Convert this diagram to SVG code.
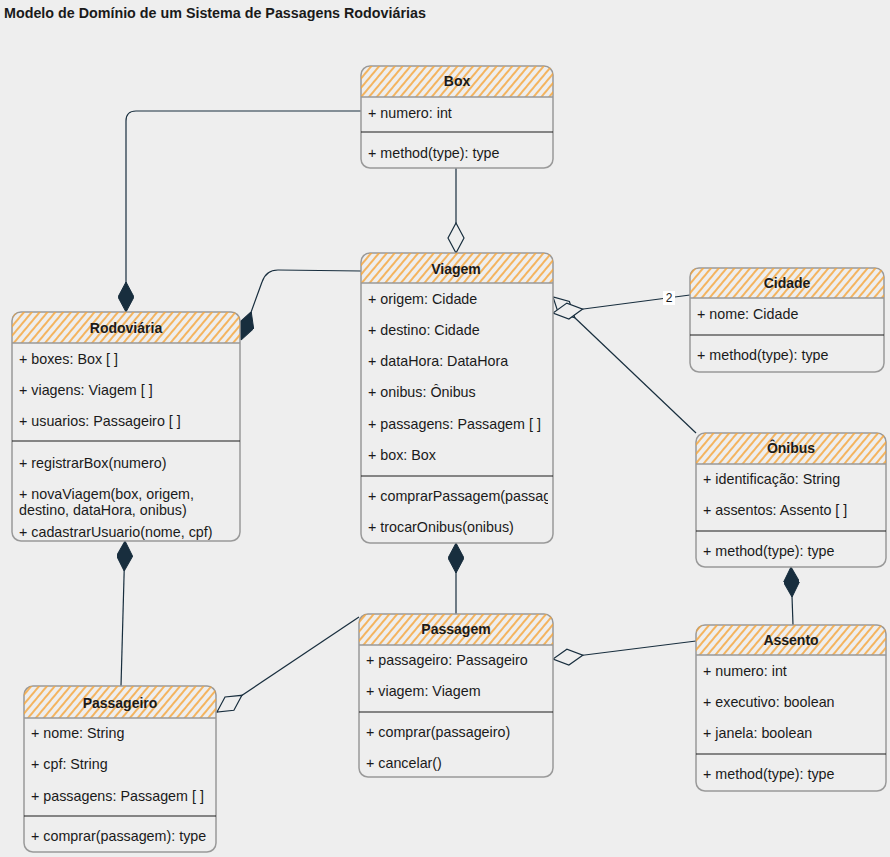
<svg xmlns="http://www.w3.org/2000/svg" width="890" height="857" viewBox="0 0 890 857">
<defs>
<style>
.bg{fill:#eeeeee}
.box{fill:#eeeeee;stroke:#999999;stroke-width:1.5}
.hdr{fill:url(#hatch)}
.hsep{stroke:#999999;stroke-width:1.5}
.div{stroke:#1a1a1a;stroke-width:1.2}
.t{font-family:"Liberation Sans",Arial,sans-serif;font-size:14.3px;fill:#1a1a1a}
.tb{font-family:"Liberation Sans",Arial,sans-serif;font-size:14px;font-weight:bold;fill:#1a1a1a;text-anchor:middle}
.title{font-family:"Liberation Sans",Arial,sans-serif;font-size:14.3px;font-weight:bold;fill:#1a1a1a}
.edge{fill:none;stroke:#182E3E;stroke-width:1.2}
.lbl{font-family:"Liberation Sans",Arial,sans-serif;font-size:12px;fill:#1a1a1a;text-anchor:middle}
</style>
<pattern id="hatch" patternUnits="userSpaceOnUse" width="6" height="6" patternTransform="rotate(40)">
<line x1="3" y1="0" x2="3" y2="6" stroke="#F5A53A" stroke-width="1.6"/>
</pattern>
<marker id="dFill" markerUnits="userSpaceOnUse" viewBox="0 0 30 16" refX="30" refY="8" markerWidth="30" markerHeight="16" orient="auto">
<path d="M0,8 L15,0 L30,8 L15,16 Z" fill="#182E3E" stroke="#182E3E" stroke-width="1"/>
</marker>
<marker id="dOpen" markerUnits="userSpaceOnUse" viewBox="-1 -1 32 18" refX="30" refY="8" markerWidth="32" markerHeight="18" orient="auto">
<path d="M0,8 L15,0 L30,8 L15,16 Z" fill="#eeeeee" stroke="#182E3E" stroke-width="1.2"/>
</marker>
<clipPath id="clipViagem"><rect x="361" y="253" width="187" height="290"/></clipPath>
</defs>
<rect class="bg" x="0" y="0" width="890" height="857"/>
<text class="title" x="4" y="18">Modelo de Domínio de um Sistema de Passagens Rodoviárias</text>

<g id="connectors">
<path class="edge" d="M361,111 L136,111 Q126,111 126,121 L126,312" marker-end="url(#dFill)"/>
<path class="edge" d="M456,168 L456,253" marker-end="url(#dOpen)"/>
<path class="edge" d="M361,271 L278,270 Q266,270 262,282 L241,340" marker-end="url(#dFill)"/>
<path class="edge" d="M696,433 L553,297" marker-end="url(#dOpen)"/>
<path class="edge" d="M690,295 L553,313" marker-end="url(#dOpen)"/>
<path class="edge" d="M456,614 L456,543" marker-end="url(#dFill)"/>
<path class="edge" d="M793,625 L791,567" marker-end="url(#dFill)"/>
<path class="edge" d="M696,641 L553,659" marker-end="url(#dOpen)"/>
<path class="edge" d="M359,617 L217,712" marker-end="url(#dOpen)"/>
<path class="edge" d="M121,686 L125,541" marker-end="url(#dFill)"/>
<rect x="663" y="291" width="12" height="14" fill="#ffffff"/>
<text class="lbl" x="669" y="302">2</text>
</g>

<g id="box">
<rect class="box" x="361" y="66" width="192" height="102" rx="9"/>
<path class="hdr" d="M361,97 L361,75 Q361,66 370,66 L544,66 Q553,66 553,75 L553,97 Z"/>
<line class="hsep" x1="361" y1="97" x2="553" y2="97"/>
<text class="tb" x="457" y="86">Box</text>
<text class="t" x="368" y="118">+ numero: int</text>
<line class="div" x1="361" y1="132" x2="553" y2="132"/>
<text class="t" x="368" y="158">+ method(type): type</text>
</g>

<g id="viagem">
<rect class="box" x="361" y="253" width="192" height="290" rx="9"/>
<path class="hdr" d="M361,283 L361,262 Q361,253 370,253 L544,253 Q553,253 553,262 L553,283 Z"/>
<line class="hsep" x1="361" y1="283" x2="553" y2="283"/>
<text class="tb" x="456" y="274">Viagem</text>
<text class="t" x="368" y="304">+ origem: Cidade</text>
<text class="t" x="368" y="335">+ destino: Cidade</text>
<text class="t" x="368" y="366">+ dataHora: DataHora</text>
<text class="t" x="368" y="397">+ onibus: Ônibus</text>
<text class="t" x="368" y="429">+ passagens: Passagem [ ]</text>
<text class="t" x="368" y="460">+ box: Box</text>
<line class="div" x1="361" y1="476" x2="553" y2="476"/>
<g clip-path="url(#clipViagem)">
<text class="t" x="368" y="501">+ comprarPassagem(passag</text>
</g>
<text class="t" x="368" y="532">+ trocarOnibus(onibus)</text>
</g>

<g id="cidade">
<rect class="box" x="690" y="268" width="194" height="104" rx="9"/>
<path class="hdr" d="M690,298 L690,277 Q690,268 699,268 L875,268 Q884,268 884,277 L884,298 Z"/>
<line class="hsep" x1="690" y1="298" x2="884" y2="298"/>
<text class="tb" x="787" y="288">Cidade</text>
<text class="t" x="697" y="319">+ nome: Cidade</text>
<line class="div" x1="690" y1="335" x2="884" y2="335"/>
<text class="t" x="697" y="360">+ method(type): type</text>
</g>

<g id="rodoviaria">
<rect class="box" x="12" y="312" width="228" height="229" rx="9"/>
<path class="hdr" d="M12,343 L12,321 Q12,312 21,312 L231,312 Q240,312 240,321 L240,343 Z"/>
<line class="hsep" x1="12" y1="343" x2="240" y2="343"/>
<text class="tb" x="126" y="333">Rodoviária</text>
<text class="t" x="19" y="364">+ boxes: Box [ ]</text>
<text class="t" x="19" y="395">+ viagens: Viagem [ ]</text>
<text class="t" x="19" y="426">+ usuarios: Passageiro [ ]</text>
<line class="div" x1="12" y1="441" x2="240" y2="441"/>
<text class="t" x="19" y="468">+ registrarBox(numero)</text>
<text class="t" x="19" y="499">+ novaViagem(box, origem,</text>
<text class="t" x="19" y="515">destino, dataHora, onibus)</text>
<text class="t" x="19" y="537">+ cadastrarUsuario(nome, cpf)</text>
</g>

<g id="onibus">
<rect class="box" x="696" y="433" width="190" height="134" rx="9"/>
<path class="hdr" d="M696,464 L696,442 Q696,433 705,433 L877,433 Q886,433 886,442 L886,464 Z"/>
<line class="hsep" x1="696" y1="464" x2="886" y2="464"/>
<text class="tb" x="791" y="453">Ônibus</text>
<text class="t" x="703" y="484">+ identificação: String</text>
<text class="t" x="703" y="515">+ assentos: Assento [ ]</text>
<line class="div" x1="696" y1="531" x2="886" y2="531"/>
<text class="t" x="703" y="556">+ method(type): type</text>
</g>

<g id="passagem">
<rect class="box" x="359" y="614" width="194" height="163" rx="9"/>
<path class="hdr" d="M359,645 L359,623 Q359,614 368,614 L544,614 Q553,614 553,623 L553,645 Z"/>
<line class="hsep" x1="359" y1="645" x2="553" y2="645"/>
<text class="tb" x="456" y="634">Passagem</text>
<text class="t" x="366" y="665">+ passageiro: Passageiro</text>
<text class="t" x="366" y="696">+ viagem: Viagem</text>
<line class="div" x1="359" y1="712" x2="553" y2="712"/>
<text class="t" x="366" y="737">+ comprar(passageiro)</text>
<text class="t" x="366" y="768">+ cancelar()</text>
</g>

<g id="assento">
<rect class="box" x="696" y="625" width="190" height="166" rx="9"/>
<path class="hdr" d="M696,655 L696,634 Q696,625 705,625 L877,625 Q886,625 886,634 L886,655 Z"/>
<line class="hsep" x1="696" y1="655" x2="886" y2="655"/>
<text class="tb" x="791" y="645">Assento</text>
<text class="t" x="703" y="676">+ numero: int</text>
<text class="t" x="703" y="707">+ executivo: boolean</text>
<text class="t" x="703" y="738">+ janela: boolean</text>
<line class="div" x1="696" y1="754" x2="886" y2="754"/>
<text class="t" x="703" y="779">+ method(type): type</text>
</g>

<g id="passageiro">
<rect class="box" x="24" y="686" width="192" height="166" rx="9"/>
<path class="hdr" d="M24,718 L24,695 Q24,686 33,686 L207,686 Q216,686 216,695 L216,718 Z"/>
<line class="hsep" x1="24" y1="718" x2="216" y2="718"/>
<text class="tb" x="120" y="708">Passageiro</text>
<text class="t" x="31" y="738">+ nome: String</text>
<text class="t" x="31" y="769">+ cpf: String</text>
<text class="t" x="31" y="801">+ passagens: Passagem [ ]</text>
<line class="div" x1="24" y1="816" x2="216" y2="816"/>
<text class="t" x="31" y="841">+ comprar(passagem): type</text>
</g>
</svg>
